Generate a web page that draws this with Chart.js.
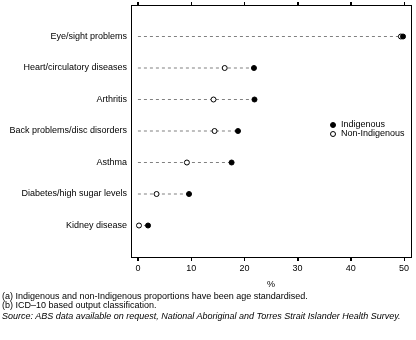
<!DOCTYPE html>
<html>
<head>
<meta charset="utf-8">
<script src="https://cdn.jsdelivr.net/npm/chart.js@4"></script>
<style>
  body { margin: 0; background: #fff; font-family: "Liberation Sans", Arial, sans-serif; }
  #wrap { position: relative; width: 416px; height: 340px; }
  canvas { position: absolute; left: 0; top: 0; }
  .txt { position: absolute; font-size: 9px; line-height: 9px; color: #000; white-space: nowrap; }
  .dot { position: absolute; width: 4px; height: 4px; border: 1px solid #000; border-radius: 50%; }
</style>
</head>
<body>
<div id="wrap">
  <canvas id="myChart" width="416" height="340"></canvas>
  <span class="dot" style="left:330px;top:122px;background:#000"></span>
  <div class="txt" style="left:341px;top:120px">Indigenous</div>
  <span class="dot" style="left:330px;top:131px;background:#fff"></span>
  <div class="txt" style="left:341px;top:129px">Non-Indigenous</div>
  <div class="txt" style="left:2px;top:292px">(a) Indigenous and non-Indigenous proportions have been age standardised.</div>
  <div class="txt" style="left:2px;top:301px">(b) ICD&#8211;10 based output classification.</div>
  <div class="txt" style="left:2px;top:312px;font-style:italic">Source: ABS data available on request, National Aboriginal and Torres Strait Islander Health Survey.</div>
</div>
<script>
const categories = ['Eye/sight problems', 'Heart/circulatory diseases', 'Arthritis',
  'Back problems/disc disorders', 'Asthma', 'Diabetes/high sugar levels', 'Kidney disease'];
const indigenous = [49.8, 21.8, 21.9, 18.8, 17.6, 9.6, 1.9];
const nonIndigenous = [49.4, 16.3, 14.2, 14.4, 9.2, 3.5, 0.2];
const xTicks = [0, 10, 20, 30, 40, 50];

Chart.defaults.font.family = "'Liberation Sans', Arial, sans-serif";
Chart.defaults.font.size = 9;
Chart.defaults.color = '#000';

const setXTicks = (scale) => { scale.ticks = xTicks.map(v => ({ value: v })); };
const noPad = (s) => { s.paddingTop = 0; s.paddingBottom = 0; s.paddingLeft = 0; s.paddingRight = 0; };

// grey dashed guide from 0 to the furthest marker on each row
const guideLines = categories.map((c, i) => ({
  type: 'line',
  data: [{ x: 0, y: i + 1 }, { x: Math.max(indigenous[i], nonIndigenous[i]), y: i + 1 }],
  borderColor: '#808080',
  borderWidth: 1,
  borderDash: [3, 3],
  pointRadius: 0
}));

// tick marks on the top and bottom edges of the box
const edgeTicks = {
  id: 'edgeTicks',
  afterDraw(chart) {
    const { ctx, chartArea } = chart;
    const x = chart.scales.x;
    ctx.save();
    ctx.strokeStyle = '#000';
    ctx.lineWidth = 1;
    ctx.beginPath();
    xTicks.forEach(v => {
      const px = Math.round(x.getPixelForValue(v)) + 0.5;
      ctx.moveTo(px, Math.round(chartArea.top) - 3);
      ctx.lineTo(px, Math.round(chartArea.top));
      ctx.moveTo(px, Math.round(chartArea.bottom));
      ctx.lineTo(px, Math.round(chartArea.bottom) + 4);
    });
    ctx.stroke();
    ctx.restore();
  }
};

const ctx = document.getElementById('myChart').getContext('2d');
const chart = new Chart(ctx, {
  type: 'scatter',
  data: {
    datasets: [{
      label: 'Indigenous',
      data: categories.map((c, i) => ({ x: indigenous[i], y: i + 1 })),
      backgroundColor: '#000',
      borderColor: '#000',
      borderWidth: 1,
      pointRadius: 2.5
    }, {
      label: 'Non-Indigenous',
      data: categories.map((c, i) => ({ x: nonIndigenous[i], y: i + 1 })),
      backgroundColor: '#fff',
      borderColor: '#000',
      borderWidth: 1,
      pointRadius: 2.5
    }, ...guideLines]
  },
  options: {
    responsive: false,
    animation: false,
    layout: { padding: { top: 0, right: 4, left: 0, bottom: 50 } },
    plugins: { legend: { display: false }, tooltip: { enabled: false } },
    scales: {
      x: {
        type: 'linear', position: 'bottom', min: -1.3, max: 51.3,
        afterBuildTicks: setXTicks,
        afterFit: (s) => { s.height = 33; noPad(s); },
        grid: { drawOnChartArea: false, tickLength: 4, color: '#000' },
        border: { color: '#000' },
        ticks: { padding: 2, maxRotation: 0 },
        title: { display: true, text: '%', padding: 0 }
      },
      x2: {
        type: 'linear', position: 'top', min: -1.3, max: 51.3,
        afterBuildTicks: setXTicks,
        afterFit: (s) => { s.height = 3; noPad(s); },
        grid: { drawOnChartArea: false, tickLength: 3, color: '#000' },
        border: { color: '#000' },
        ticks: { display: false }
      },
      y: {
        type: 'linear', position: 'left', min: 0, max: 8, reverse: true,
        afterBuildTicks: (s) => { s.ticks = categories.map((c, i) => ({ value: i + 1 })); },
        afterFit: (s) => { s.width = 131; noPad(s); },
        grid: { drawOnChartArea: false, drawTicks: false },
        border: { color: '#000' },
        ticks: { padding: 4, callback: (v) => categories[v - 1] }
      },
      y2: {
        type: 'linear', position: 'right', min: 0, max: 8,
        afterFit: noPad,
        grid: { drawOnChartArea: false, drawTicks: false },
        border: { color: '#000' },
        ticks: { display: false }
      }
    }
  },
  plugins: [edgeTicks]
});
</script>
</body>
</html>
